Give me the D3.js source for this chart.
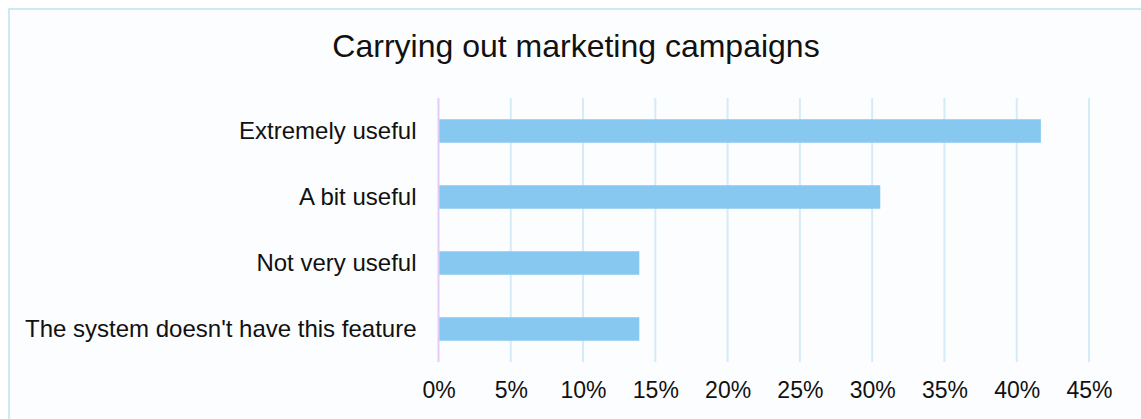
<!DOCTYPE html>
<html>
<head>
<meta charset="utf-8">
<script src="https://cdn.jsdelivr.net/npm/d3@7"></script>
<style>
  html, body { margin: 0; padding: 0; background: #ffffff; }
  svg { display: block; font-family: "Liberation Sans", Arial, sans-serif; }
</style>
</head>
<body>
<svg id="chart" width="1141" height="419"></svg>
<script>
// Survey answers and their share of respondents (%)
const categories = [
  "Extremely useful",
  "A bit useful",
  "Not very useful",
  "The system doesn't have this feature"
];
const shares = [41.67, 30.56, 13.89, 13.89];
const tickValues = [0, 5, 10, 15, 20, 25, 30, 35, 40, 45];
const title = "Carrying out marketing campaigns";

const svg = d3.select("#chart");
const W = 1141, H = 419;

// Panel frame (left and top edges visible)
svg.append("rect")
  .attr("x", 9).attr("y", 9)
  .attr("width", W + 10).attr("height", H + 10)
  .attr("fill", "#fcfdfe")
  .attr("stroke", "#cfe8f6")
  .attr("stroke-width", 2);

const plot = { left: 438.5, right: 1089, top: 98, bottom: 362 };

const x = d3.scaleLinear().domain([0, 45]).range([plot.left, plot.right]);
const y = d3.scaleBand()
  .domain(categories)
  .range([plot.top, plot.bottom])
  .paddingInner(0.644)
  .paddingOuter(0.322);

// Title
svg.append("text")
  .attr("x", 576).attr("y", 57)
  .attr("text-anchor", "middle")
  .attr("font-size", 32)
  .attr("fill", "#111")
  .text(title);

// Vertical gridlines
svg.append("g")
  .selectAll("line")
  .data(tickValues.filter(d => d > 0))
  .join("line")
  .attr("x1", d => x(d)).attr("x2", d => x(d))
  .attr("y1", plot.top).attr("y2", plot.bottom)
  .attr("stroke", "#d6ebf8")
  .attr("stroke-width", 2);

// Bars
svg.append("g")
  .selectAll("rect")
  .data(categories)
  .join("rect")
  .attr("x", x(0))
  .attr("y", d => y(d))
  .attr("width", (d, i) => x(shares[i]) - x(0))
  .attr("height", y.bandwidth())
  .attr("fill", "#87c8f1");

// Baseline at zero
svg.append("line")
  .attr("x1", x(0)).attr("x2", x(0))
  .attr("y1", plot.top).attr("y2", plot.bottom)
  .attr("stroke", "#e4cbf9")
  .attr("stroke-width", 2);

// Category axis (labels only)
const yAxis = svg.append("g")
  .attr("transform", `translate(${x(0) - 22},0)`)
  .call(d3.axisLeft(y).tickSize(0).tickPadding(0));
yAxis.select(".domain").remove();
yAxis.selectAll("text")
  .attr("font-size", 24)
  .attr("font-family", "Liberation Sans, Arial, sans-serif")
  .attr("fill", "#111");

// Percentage axis (labels only)
const xAxis = svg.append("g")
  .attr("transform", `translate(0,${plot.bottom})`)
  .call(d3.axisBottom(x).tickValues(tickValues).tickFormat(d => d + "%").tickSize(0).tickPadding(0));
xAxis.select(".domain").remove();
xAxis.selectAll("text")
  .attr("dy", "1.55em")
  .attr("y", 0)
  .attr("font-size", 23)
  .attr("font-family", "Liberation Sans, Arial, sans-serif")
  .attr("fill", "#111");
</script>
</body>
</html>
